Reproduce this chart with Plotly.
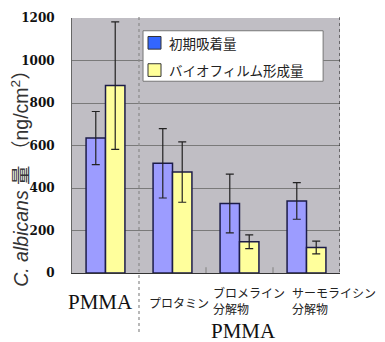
import plotly.graph_objects as go

# Groups, values and error margins (ng/cm2)
categories = ["PMMA", "プロタミン", "ブロメライン<br>分解物", "サーモライシン<br>分解物"]
series_names = ["初期吸着量", "バイオフィルム形成量"]
initial = [635, 516, 327, 339]
initial_err = [125, 163, 138, 86]
biofilm = [882, 475, 147, 120]
biofilm_err = [300, 142, 32, 30]
y_ticks = [0, 200, 400, 600, 800, 1000, 1200]

x_pos = list(range(len(categories)))

BAR_BLUE = "#9c9cff"
BAR_YELLOW = "#ffff9c"
EDGE = "#1c1c48"
JP_FONT = "Noto Sans CJK JP"

fig = go.Figure()
for name, vals, errs, col in [
    (series_names[0], initial, initial_err, BAR_BLUE),
    (series_names[1], biofilm, biofilm_err, BAR_YELLOW),
]:
    fig.add_trace(go.Bar(
        x=x_pos, y=vals, name=name, showlegend=False,
        marker=dict(color=col, line=dict(color=EDGE, width=1.5)),
        error_y=dict(type="data", array=errs, color="#222222", thickness=1.2, width=4),
    ))

shapes = []
# dotted separator between plain PMMA and treated PMMA
shapes.append(dict(type="line", xref="x", yref="paper", x0=0.5, x1=0.5,
                   y0=1.004, y1=-0.237, line=dict(color="#8a8a8a", width=1.2, dash="dot")))
# dotted right border
shapes.append(dict(type="line", xref="x", yref="paper", x0=3.5, x1=3.5,
                   y0=1.004, y1=0, line=dict(color="#111111", width=1, dash="dot")))
# small category ticks
for xb in (1.5, 2.5):
    shapes.append(dict(type="line", xref="x", yref="y", x0=xb, x1=xb, y0=0, y1=27,
                       line=dict(color="#8a8a8a", width=1.2)))

# legend box
shapes.append(dict(type="rect", xref="paper", yref="paper", x0=0.265, x1=0.937,
                   y0=0.752, y1=0.950, fillcolor="white", line=dict(color="#777777", width=1)))
legend_rows = [(series_names[0], "#3366ff", 0.9275, 0.8779, 0.9027),
               (series_names[1], "#ffff99", 0.8206, 0.7710, 0.7958)]
annotations = []
for label, col, ya, yb, yt in legend_rows:
    shapes.append(dict(type="rect", xref="paper", yref="paper", x0=0.2836, x1=0.3321,
                       y0=yb, y1=ya, fillcolor=col, line=dict(color="#333333", width=1)))
    annotations.append(dict(xref="paper", yref="paper", x=0.3545, y=yt, xanchor="left",
                            yanchor="middle", showarrow=False, text=label,
                            font=dict(family=JP_FONT, size=13.5, color="#222222")))

# category labels
annotations.append(dict(xref="x", yref="paper", x=-0.07, y=-0.1145, showarrow=False,
                        text=categories[0], xanchor="center", yanchor="middle",
                        font=dict(family="Liberation Serif", size=21, color="#111111")))
for xi, xl, yl in [(1, 0.619, -0.1145), (2, 1.575, -0.107), (3, 2.754, -0.107)]:
    annotations.append(dict(xref="x", yref="paper", x=xl, y=yl, showarrow=False,
                            text=categories[xi], xanchor="left", yanchor="middle", align="left",
                            font=dict(family=JP_FONT, size=12, color="#222222")))
annotations.append(dict(xref="x", yref="paper", x=2.067, y=-0.229, showarrow=False,
                        text="PMMA", xanchor="center", yanchor="middle",
                        font=dict(family="Liberation Serif", size=21, color="#111111")))

# y-axis title
annotations.append(dict(xref="paper", yref="paper", x=-0.194, y=0.389, showarrow=False,
                        textangle=-90, xanchor="center", yanchor="middle",
                        text="<i>C. albicans</i> 量 （ng/cm<sup>2</sup>）",
                        font=dict(family="Liberation Sans, " + JP_FONT, size=19.5, color="#333333")))

fig.update_layout(
    width=385, height=342, autosize=False,
    margin=dict(l=72, r=45, t=11, b=69),
    paper_bgcolor="white", plot_bgcolor="#c0bec4",
    barmode="group", bargap=0.42, bargroupgap=0,
    shapes=shapes, annotations=annotations, showlegend=False,
)
fig.update_xaxes(range=[-0.5, 3.5], showticklabels=False, showgrid=False,
                 showline=True, linecolor="#333333", linewidth=1, zeroline=False, ticks="")
fig.update_yaxes(range=[0, 1200], tickvals=y_ticks, showgrid=True, gridcolor="#7a7a7a",
                 gridwidth=1, showline=True, linecolor="#666666", linewidth=1,
                 zeroline=False, ticks="", ticklabelstandoff=14,
                 tickfont=dict(family="DejaVu Serif", size=12, color="#111111", weight="bold"))

fig.write_html("out.html")
